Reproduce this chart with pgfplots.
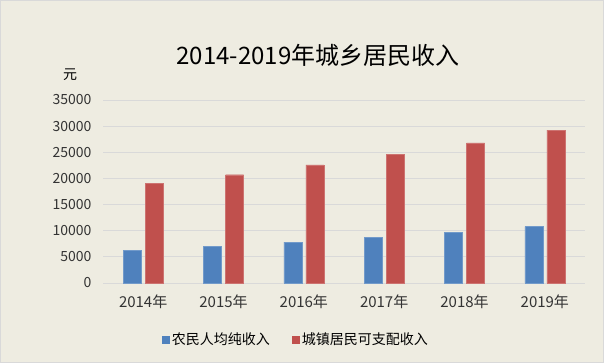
\documentclass[border=0pt]{standalone}
\usepackage{fontspec}
\setmainfont{Noto Sans CJK SC}
\usepackage{pgfplots}
\pgfplotsset{compat=1.18}
\definecolor{bgc}{HTML}{EEECE1}
\definecolor{bblue}{HTML}{4F81BD}
\definecolor{bred}{HTML}{C0504D}
\definecolor{gridc}{HTML}{D9D9D9}
\begin{document}
\begin{tikzpicture}[x=1bp,y=1bp]
\fill[bgc] (0,0) rectangle (604,363);
\draw[gridc,line width=1bp] (0.5,0.5) rectangle (603.5,362.5);
\node[font=\fontsize{24bp}{28bp}\selectfont] at (318,308) {2014-2019年城乡居民收入};
\node[font=\fontsize{14bp}{16bp}\selectfont] at (70,288) {元};
\begin{axis}[
  at={(103bp,80bp)}, anchor=south west,
  scale only axis, width=482bp, height=183bp,
  xmin=-0.5, xmax=5.5, ymin=0, ymax=35000,
  ytick={0,5000,...,35000},
  xtick={0,...,5},
  xticklabels={2014年,2015年,2016年,2017年,2018年,2019年},
  ymajorgrids, grid style={gridc, line width=1bp},
  axis line style={draw=none},
  major tick length=0pt,
  tick label style={font=\fontsize{14bp}{16bp}\selectfont, text=black!80},
  xticklabel style={yshift=-8bp, font=\fontsize{15bp}{17bp}\selectfont},
  yticklabel style={xshift=-8bp},
  /pgf/number format/assume math mode=true,
  scaled y ticks=false,
  yticklabel={\pgfmathprintnumber[fixed,1000 sep={}]{\tick}},
  ybar=4bp, bar width=18bp,
  legend columns=2,
  legend style={at={(0.40,-0.31)}, anchor=center, draw=none, fill=none,
    font=\fontsize{14bp}{16bp}\selectfont,
    /tikz/every even column/.append style={column sep=20bp}},
  legend image code/.code={\fill[#1,draw=none] (0bp,-4bp) rectangle (8bp,4bp);},
]
\addplot[fill=bblue, draw=bblue!80!white] coordinates {(0,6230) (1,7060) (2,7830) (3,8730) (4,9750) (5,10770)};
\addplot[fill=bred, draw=bred!80!white] coordinates {(0,19115) (1,20710) (2,22580) (3,24560) (4,26790) (5,29230)};
\legend{农民人均纯收入,城镇居民可支配收入}
\end{axis}
\end{tikzpicture}
\end{document}
